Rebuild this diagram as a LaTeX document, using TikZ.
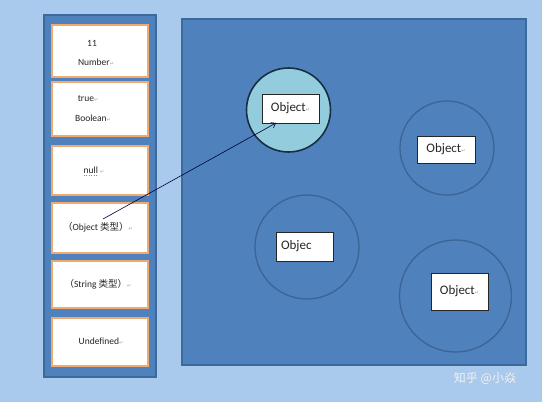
\documentclass[tikz,border=0pt]{standalone}
\usepackage{fontspec}
\usetikzlibrary{arrows.meta}
\setmainfont{Carlito}
\newfontfamily\cjk{Noto Sans CJK SC}
\newfontfamily\djv{DejaVu Sans}
\definecolor{bgc}{HTML}{A9CAEC}
\definecolor{panel}{HTML}{4F81BD}
\definecolor{panelb}{HTML}{3D6A9C}
\definecolor{orangeb}{HTML}{F0AA70}
\definecolor{circb}{HTML}{3A6594}
\definecolor{cfill}{HTML}{93CDDD}
\definecolor{markc}{HTML}{A0A0A0}
\newcommand{\para}{{\djv\color{markc}\fontsize{5}{5}\selectfont ↵}}
\begin{document}
\begin{tikzpicture}[x=1pt,y=-1pt,
  panelbox/.style={draw=panelb,fill=panel,line width=1.2pt},
  valbox/.style={draw=orangeb,fill=white,line width=2pt},
  ring/.style={draw=circb,line width=1.3pt},
  objbox/.style={draw=black!85,fill=white,line width=0.6pt},
  small/.style={font=\fontsize{9.5}{10}\selectfont,text=black!85},
  big/.style={font=\fontsize{13}{13}\selectfont,text=black!85}]
\fill[bgc] (0,0) rectangle (542,402);
\useasboundingbox (0,0) rectangle (542,402);
% left column
\path[panelbox] (44,15) rectangle (156,377);
\path[valbox] (52,25) rectangle (148,77);
\path[valbox] (52,82) rectangle (148,136);
\path[valbox] (52,146) rectangle (148,195);
\path[valbox] (52,203) rectangle (148,253);
\path[valbox] (52,261) rectangle (148,308);
\path[valbox] (52,318) rectangle (148,366);
\node[small] (n11) at (92,43) {11};
\node[small] (num) at (96,62) {Number\para};
\node[small] (tru) at (88,99) {true\para};
\node[small] (boo) at (93,118) {Boolean\para};
\node[small] (nul) at (94,170) {null \para};
\draw[green!55!black!70,line width=0.4pt,dotted] (84,175.5) -- (98,175.5);
\node[small] (obt) at (98,227) {{\cjk （}Object {\cjk 类型）}\para};
\node[small] (stt) at (98,284) {{\cjk （}String {\cjk 类型）}\para};
\node[small] (und) at (101,341) {Undefined\para};
% right panel
\path[panelbox] (182,19) rectangle (526,365);
\draw[ring,fill=cfill,draw=black!55!circb,line width=1.6pt] (288.5,110) circle (42);
\draw[ring] (447,148) circle (47);
\draw[ring] (307,247) circle (52);
\draw[ring] (455.5,296) circle (56);
\node[objbox,big,minimum width=57pt,minimum height=29pt,inner sep=0pt] (o1) at (290.5,108.5) {Object\para};
\node[objbox,big,minimum width=58pt,minimum height=27pt,inner sep=0pt] (o2) at (446,149.5) {Object\para};
\node[objbox,big,minimum width=57pt,minimum height=29pt,inner sep=0pt,text width=47pt,align=left] (o3) at (304.5,246.5) {Objec};
\node[objbox,big,minimum width=57pt,minimum height=37pt,inner sep=0pt] (o4) at (459.5,291.5) {Object\para};
\coordinate (st) at (103,219);
\coordinate (tip) at (276,123);
\draw[-{Straight Barb[length=4pt,width=6pt]},line width=0.6pt,black!80!blue] (st) -- (tip);
% watermark
\node[font=\cjk\fontsize{12}{12}\selectfont,text=white!90!gray] (wm) at (485,378) {知乎 @小焱};
\end{tikzpicture}
\end{document}
